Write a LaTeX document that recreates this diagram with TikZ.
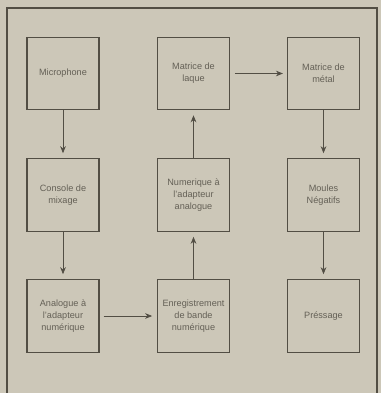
\documentclass[tikz,border=0pt]{standalone}
\usepackage{fontspec}
\setmainfont{Liberation Sans}
\usetikzlibrary{arrows.meta}

\definecolor{paper}{RGB}{204,199,184}
\definecolor{ink}{RGB}{82,78,68}
\definecolor{print}{RGB}{100,96,86}

\tikzset{
    box/.style={draw=ink, line width=0.8pt, minimum width=1.8cm, minimum height=1.82cm,
        align=center, inner sep=1pt, text=print, font=\fontsize{6.5}{8.5}\selectfont},
    link/.style={draw=ink, line width=0.5pt, -{Stealth[length=5pt,width=4pt]}}
}

\begin{document}
\begin{tikzpicture}[x=0.025cm, y=-0.025cm]
        \useasboundingbox (0, 0) rectangle (381, 393);
        \fill [paper] (0, 0) rectangle (381, 393);
        \draw [ink, line width=0.8pt] (7, 393) -- (7, 8) -- (377, 8) -- (377, 393);

        \node[box] (micro) at (63, 73.5) {Microphone};
        \node[box] (laque) at (193.5, 73.5) {Matrice de\\laque};
        \node[box] (metal) at (323.5, 73.5) {Matrice de\\métal};

        \node[box] (console) at (63, 195) {Console de\\mixage};
        \node[box] (numana) at (193.5, 195) {Numerique à\\l'adapteur\\analogue};
        \node[box] (moules) at (323.5, 195) {Moules\\Négatifs};

        \node[box] (anadig) at (63, 316) {Analogue à\\l'adapteur\\numérique};
        \node[box] (enreg) at (193.5, 316) {Enregistrement\\de bande\\numérique};
        \node[box] (press) at (323.5, 316) {Préssage};

        \draw[link] (micro) -- ([yshift=0.12cm]console.north);
        \draw[link] (console) -- ([yshift=0.12cm]anadig.north);
        \draw[link] ([xshift=0.1cm]anadig.east) -- ([xshift=-0.12cm]enreg.west);
        \draw[link] (enreg) -- ([yshift=-0.12cm]numana.south);
        \draw[link] (numana) -- ([yshift=-0.12cm]laque.south);
        \draw[link] ([xshift=0.12cm]laque.east) -- ([xshift=-0.1cm]metal.west);
        \draw[link] (metal) -- ([yshift=0.12cm]moules.north);
        \draw[link] (moules) -- ([yshift=0.12cm]press.north);

\end{tikzpicture}
\end{document}
